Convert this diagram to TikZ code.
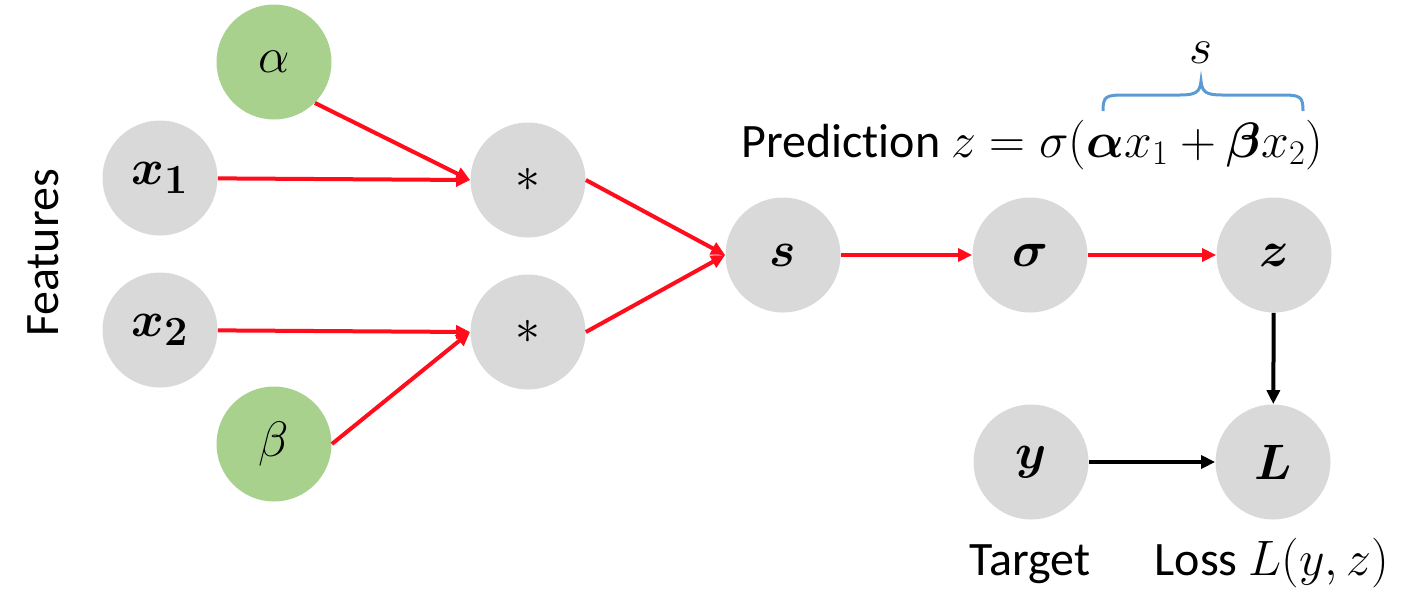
\documentclass[tikz,border=0pt]{standalone}
\usepackage{amsmath}
\usepackage{bm}
\usepackage{fontspec}
\setmainfont[Ligatures=NoCommon]{Carlito}
\usetikzlibrary{arrows.meta}
\definecolor{nodegray}{HTML}{D9D9D9}
\definecolor{nodegreen}{HTML}{A9D18E}
\definecolor{edgered}{HTML}{FF0D1D}
\definecolor{braceblue}{HTML}{5B9BD5}
\tikzset{
  gnode/.style={circle, fill=nodegray, minimum size=57.5pt, inner sep=0pt, font=\fontsize{24.88}{28}\selectfont},
  pnode/.style={gnode, fill=nodegreen},
  redarrow/.style={draw=edgered, line width=2pt, -{Triangle[length=7pt,width=6.5pt]}},
  blackarrow/.style={draw=black, line width=2pt, -{Triangle[length=7pt,width=6.5pt]}},
  lbl/.style={font=\fontsize{24}{28}\selectfont, inner sep=0pt},
}
\begin{document}
\begin{tikzpicture}[x=0.5pt,y=-0.5pt]
\useasboundingbox (0,0) rectangle (1408,606);
\node[pnode] (alpha) at (274,62) {$\alpha$};
\node[gnode] (x1) at (160,178) {$\bm{x_1}$};
\node[gnode] (m1) at (528,180) {$*$};
\node[gnode] (x2) at (160,330) {$\bm{x_2}$};
\node[gnode] (m2) at (528,332) {$*$};
\node[pnode] (beta) at (274,444) {$\beta$};
\node[gnode] (s) at (783,255) {$\bm{s}$};
\node[gnode] (sig) at (1030,255) {$\bm{\sigma}$};
\node[gnode] (z) at (1274,255) {$\bm{z}$};
\node[gnode] (y) at (1031,462) {$\bm{y}$};
\node[gnode] (L) at (1273,462) {$\bm{L}$};

\node[lbl, rotate=90] (feat) at (43,253) {Features};
\node[lbl, anchor=base west] (pred) at (741,157) {Prediction $z=\sigma(\bm{\alpha} x_1+\bm{\beta} x_2)$};
\node[lbl, anchor=base] (stop) at (1201,63) {$s$};
\node[lbl, anchor=base] (target) at (1030,575) {Target};
\node[lbl, anchor=base] (loss) at (1272,575) {Loss $L(y,z)$};

\draw[redarrow] (alpha.south east) -- (m1.west);
\draw[redarrow] (x1) -- (m1.west);
\draw[redarrow] (x2) -- (m2.west);
\draw[redarrow] (beta.east) -- (m2.west);
\draw[redarrow] (m1.east) -- (s.west);
\draw[redarrow] (m2.east) -- (s.west);
\draw[redarrow] (s) -- (sig);
\draw[redarrow] (sig) -- (z);
\draw[blackarrow] (z) -- (L);
\draw[blackarrow] (y) -- (L);

\coordinate (bl) at (1103,111);
\coordinate (br) at (1303,111);
\coordinate (bt) at (1201,81);
\draw[braceblue, line width=1.5pt]
  (bl) .. controls (1103,96) and (1106,95) .. (1125,95) -- (1180,95)
  .. controls (1196,95) and (1200,92) .. (bt)
  .. controls (1202,92) and (1206,95) .. (1222,95) -- (1281,95)
  .. controls (1300,95) and (1303,96) .. (br);
\end{tikzpicture}
\end{document}
